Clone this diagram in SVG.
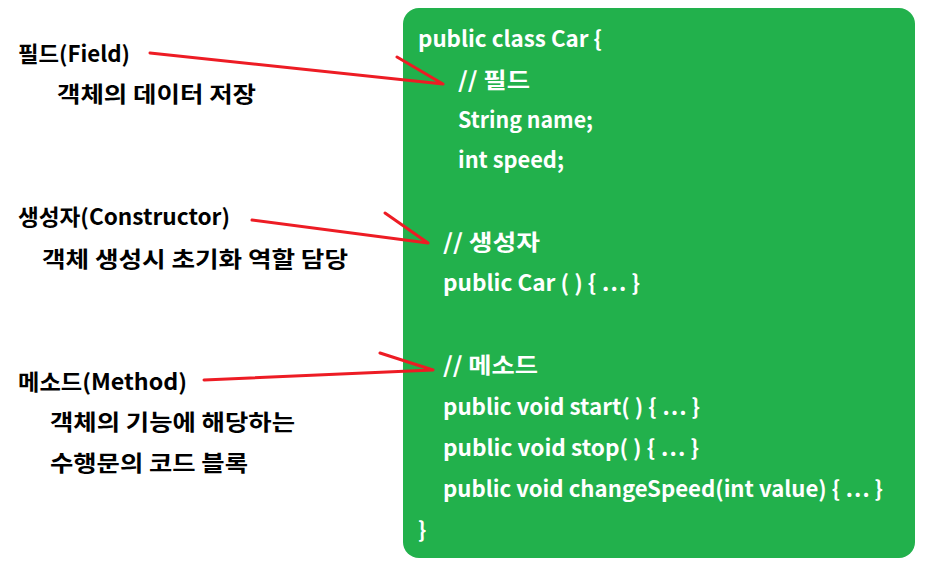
<svg xmlns="http://www.w3.org/2000/svg" width="929" height="566" viewBox="0 0 929 566">
<style>
.t{font-family:"Noto Sans CJK KR","Noto Sans",sans-serif;font-weight:bold;font-size:22px;fill:#000}
.c{font-family:"Noto Sans CJK KR","Noto Sans",sans-serif;font-weight:bold;font-size:22px;fill:#fff}
.a{stroke:#ed1c24;stroke-width:3;fill:none;stroke-linecap:round}
</style>
<rect width="929" height="566" fill="#fff"/>
<g id="code">
<rect x="403" y="8" width="512" height="550" rx="16" fill="#22b14c"/>
<text class="c" x="418" y="47" textLength="184" lengthAdjust="spacingAndGlyphs">public class Car {</text>
<text class="c" x="458" y="88" textLength="72" lengthAdjust="spacingAndGlyphs">// 필드</text>
<text class="c" x="458" y="128" textLength="135" lengthAdjust="spacingAndGlyphs">String name;</text>
<text class="c" x="458" y="168" textLength="106" lengthAdjust="spacingAndGlyphs">int speed;</text>
<text class="c" x="443" y="250" textLength="97" lengthAdjust="spacingAndGlyphs">// 생성자</text>
<text class="c" x="443" y="291" textLength="197" lengthAdjust="spacingAndGlyphs">public Car ( ) { … }</text>
<text class="c" x="443" y="373" textLength="95" lengthAdjust="spacingAndGlyphs">// 메소드</text>
<text class="c" x="443" y="415" textLength="257" lengthAdjust="spacingAndGlyphs">public void start( ) { … }</text>
<text class="c" x="443" y="456" textLength="256" lengthAdjust="spacingAndGlyphs">public void stop( ) { … }</text>
<text class="c" x="443" y="497" textLength="440" lengthAdjust="spacingAndGlyphs">public void changeSpeed(int value) { … }</text>
<text class="c" x="418" y="538">}</text>
</g>
<g id="field">
<text class="t" x="18" y="62" textLength="112" lengthAdjust="spacingAndGlyphs">필드(Field)</text>
<text class="t" x="57" y="102" textLength="199" lengthAdjust="spacingAndGlyphs">객체의 데이터 저장</text>
</g>
<g id="constructor">
<text class="t" x="18" y="225" textLength="212" lengthAdjust="spacingAndGlyphs">생성자(Constructor)</text>
<text class="t" x="42" y="267" textLength="306" lengthAdjust="spacingAndGlyphs">객체 생성시 초기화 역할 담당</text>
</g>
<g id="method">
<text class="t" x="18" y="390" textLength="169" lengthAdjust="spacingAndGlyphs">메소드(Method)</text>
<text class="t" x="50" y="430" textLength="245" lengthAdjust="spacingAndGlyphs">객체의 기능에 해당하는</text>
<text class="t" x="50" y="471" textLength="198" lengthAdjust="spacingAndGlyphs">수행문의 코드 블록</text>
</g>
<g id="connectors">
<path class="a" d="M150 53 L443 84 M397 57 L443 84"/>
<path class="a" d="M252 220 L428 243 M385 213 L428 243"/>
<path class="a" d="M204 380 L433 370 M380 353 L433 370"/>
</g>
</svg>
